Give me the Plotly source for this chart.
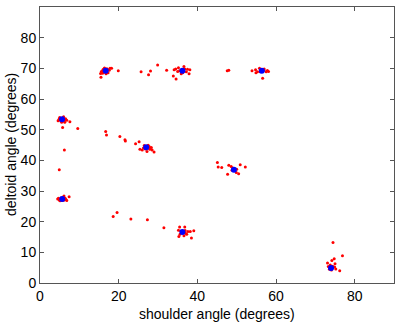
import plotly.graph_objects as go

# red samples (shoulder angle, deltoid angle)
red_x = [
    15.6, 15.9, 16.2, 16.5, 17.0, 17.3, 17.6, 16.0, 15.4, 15.5, 16.8, 17.8, 18.2, 19.9, 16.4, 17.2, 15.8,
    25.7, 27.6, 28.1, 29.9, 32.2,
    33.9, 34.6, 34.1, 35.2, 36.6, 37.2, 37.9, 38.1, 35.9, 35.5, 36.8, 35.0, 37.5, 36.3, 34.5,
    47.6, 48.0,
    53.9, 54.8, 54.9, 55.8, 57.0, 57.5, 58.1, 56.6, 55.3, 56.9, 56.0, 57.8,
    4.8, 5.0, 5.3, 5.9, 6.2, 6.5, 4.6, 5.5, 6.0, 6.8, 6.3, 5.2, 7.6, 5.75, 9.6, 6.2, 4.9,
    16.7, 16.9, 20.3, 21.6, 21.7, 24.3, 25.2,
    25.4, 26.0, 27.2, 27.9, 28.3, 29.0, 26.5, 27.5, 26.3, 27.8, 26.8, 28.5,
    45.1, 45.3, 46.2, 47.7, 48.0, 48.6, 50.5, 50.9, 52.2, 50.0, 49.9, 49.0, 48.8,
    4.9, 4.5, 6.1, 7.4, 6.8, 5.1, 5.3, 6.0, 6.4, 4.9, 5.8, 6.6, 5.5, 4.7,
    18.6, 19.6, 23.1, 27.3, 31.5,
    35.5, 36.8, 35.3, 36.6, 37.6, 38.2, 39.1, 38.5, 37.0, 35.8, 35.2, 36.9, 37.3, 35.6,
    74.5, 76.9, 74.8, 74.2, 75.0, 73.1, 73.3, 76.2, 75.2, 73.6, 74.4, 73.8, 74.9, 74.1,
]
red_y = [
    69.0, 68.4, 69.8, 68.7, 69.9, 68.6, 69.4, 69.5, 68.3, 67.1, 68.2, 70.0, 70.0, 69.2, 70.1, 69.6, 68.9,
    68.9, 67.9, 69.1, 71.1, 69.4,
    67.5, 66.5, 69.5, 70.2, 70.6, 68.9, 68.2, 69.5, 68.2, 69.2, 69.8, 69.0, 69.7, 68.6, 69.8,
    69.2, 69.4,
    69.2, 69.5, 68.6, 70.0, 69.8, 68.9, 69.0, 66.8, 68.9, 69.4, 68.9, 69.3,
    53.2, 54.0, 52.8, 53.9, 53.0, 53.6, 52.9, 52.4, 54.2, 53.1, 52.4, 53.7, 52.6, 50.7, 50.4, 43.4, 53.5,
    49.4, 48.3, 47.8, 46.7, 46.3, 45.4, 46.1,
    43.6, 43.4, 42.9, 43.6, 44.2, 42.7, 44.8, 44.9, 44.0, 44.4, 43.7, 43.4,
    39.3, 37.8, 37.7, 35.5, 38.4, 38.0, 35.6, 38.6, 37.8, 37.1, 36.0, 37.5, 36.8,
    36.9, 27.4, 28.4, 28.1, 26.9, 26.8, 27.7, 27.0, 27.6, 27.1, 28.0, 27.2, 26.9, 27.6,
    21.7, 23.0, 20.9, 20.6, 18.0,
    18.3, 18.3, 15.2, 15.4, 16.8, 16.8, 17.0, 14.7, 16.2, 16.9, 17.2, 17.1, 15.9, 15.9,
    13.2, 8.9, 7.9, 7.3, 6.3, 6.5, 5.4, 4.0, 4.6, 4.5, 5.5, 5.9, 5.2, 4.2,
]

# blue cluster centres
blue_x = [16.7, 36.2, 56.4, 5.6, 27.0, 49.3, 5.65, 36.2, 74.0]
blue_y = [69.2, 69.2, 69.2, 53.4, 44.3, 36.9, 27.4, 16.6, 4.9]

tick_vals = [0, 20, 40, 60, 80]
ytick_vals = [0, 10, 20, 30, 40, 50, 60, 70, 80, 90]
x_title = "shoulder angle (degrees)"
y_title = "deltoid angle (degrees)"

font = dict(family="Liberation Sans, Arial, sans-serif", size=14, color="black")

fig = go.Figure()
fig.add_trace(go.Scatter(x=red_x, y=red_y, mode="markers",
                         marker=dict(color="#ff0000", size=3, line=dict(width=0)),
                         hoverinfo="skip"))
fig.add_trace(go.Scatter(x=blue_x, y=blue_y, mode="markers",
                         marker=dict(color="#0000ff", size=6, line=dict(width=0)),
                         hoverinfo="skip"))

axis_common = dict(showgrid=False, zeroline=False, showline=True, linecolor="#555",
                   linewidth=1, mirror="ticks", ticks="inside", ticklen=4,
                   tickcolor="#555", tickfont=font, automargin=False)

fig.update_layout(
    width=397, height=325,
    margin=dict(l=40, r=3, t=7, b=42),
    paper_bgcolor="white", plot_bgcolor="white",
    showlegend=False, font=font,
    xaxis=dict(range=[0, 90], tickvals=tick_vals, **axis_common),
    yaxis=dict(range=[0, 90], tickvals=ytick_vals, **axis_common),
    annotations=[
        dict(text=x_title, xref="paper", yref="paper", x=0.5, y=0, yshift=-31,
             xanchor="center", yanchor="middle", showarrow=False, font=font),
        dict(text=y_title, xref="paper", yref="paper", x=0, y=0.5, xshift=-29,
             xanchor="center", yanchor="middle", textangle=-90, showarrow=False, font=font),
    ],
)

fig.write_html("out.html", config={"displayModeBar": False},
               post_script="document.body.style.margin='0';document.body.style.overflow='hidden';")
